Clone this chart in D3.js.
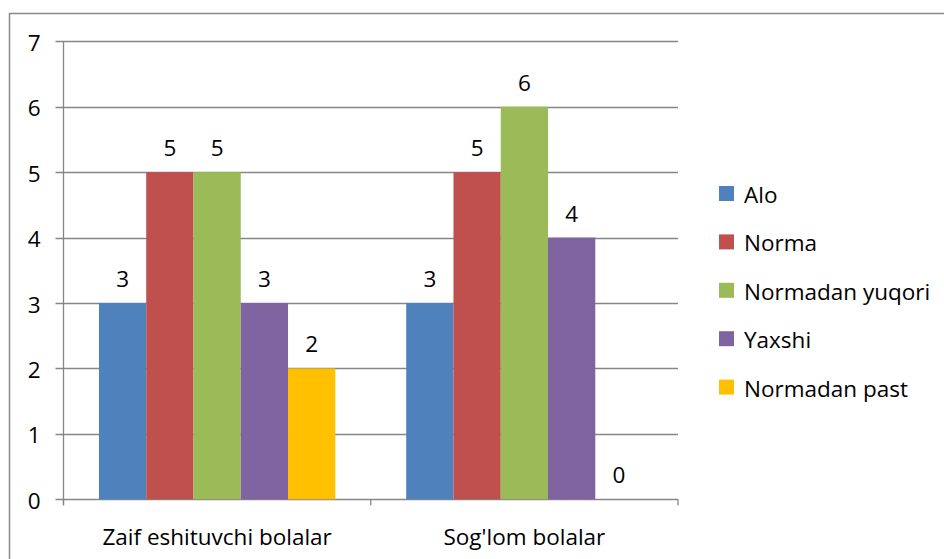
<!DOCTYPE html>
<html><head><meta charset="utf-8">
<script src="https://cdn.jsdelivr.net/npm/d3@7"></script>
<style>body{margin:0;background:#fff}svg{display:block}text{font-family:"Open Sans",sans-serif;fill:#000}</style>
</head><body><svg id="c" width="944" height="559"></svg>
<script>
const categories = ["Zaif eshituvchi bolalar", "Sog'lom bolalar"];
const seriesNames = ["Alo", "Norma", "Normadan yuqori", "Yaxshi", "Normadan past"];
const seriesColors = ["#4f81bd", "#c0504d", "#9bbb59", "#8064a2", "#ffc000"];
const values = {
  "Alo": [3, 3],
  "Norma": [5, 5],
  "Normadan yuqori": [5, 6],
  "Yaxshi": [3, 4],
  "Normadan past": [2, 0]
};
const yTicks = [0, 1, 2, 3, 4, 5, 6, 7];

const svg = d3.select("#c");
const fs = 22.5;
const fontFam = '"Open Sans",sans-serif';
// outer chart border
svg.append("path").attr("d", "M9.5,560 V13.5 H945").attr("fill", "none").attr("stroke", "#898989").attr("stroke-width", 1.5);

const x0 = 63.5, x1 = 678, yTop = 41.3, yBot = 499.3;
const x = d3.scaleBand().domain(categories).range([x0, x1]).paddingInner(0).paddingOuter(0);
const y = d3.scaleLinear().domain([0, 7]).range([yBot, yTop]);
const bw = x.bandwidth() / 6.5;
const xs = d3.scaleBand().domain(seriesNames).range([bw * 0.75, x.bandwidth() - bw * 0.75]).padding(0);

const grid = "#868686";
// gridlines
svg.append("g").selectAll("line").data(yTicks).join("line")
  .attr("x1", x0 - 8).attr("x2", x1)
  .attr("y1", d => Math.round(y(d)) + 0.5).attr("y2", d => Math.round(y(d)) + 0.5)
  .attr("stroke", grid).attr("stroke-width", 1.3);

// y axis
const yAxis = d3.axisLeft(y).tickValues(yTicks).tickSize(0).tickPadding(0).tickFormat(d3.format("d"));
const gy = svg.append("g").attr("transform", `translate(${x0},0)`).call(yAxis);
gy.select(".domain").remove();
gy.selectAll("text").attr("x", -23).attr("dy", null).attr("y", 9)
  .style("font-size", fs + "px").style("font-family", fontFam).attr("fill", "#000");
svg.append("line").attr("x1", x0).attr("x2", x0).attr("y1", yTop).attr("y2", yBot + 6).attr("stroke", grid).attr("stroke-width", 1.3);

// x axis ticks
const bounds = [x0, x0 + x.bandwidth(), x1];
svg.append("g").selectAll("line").data(bounds).join("line")
  .attr("x1", d => d).attr("x2", d => d).attr("y1", yBot).attr("y2", yBot + 6)
  .attr("stroke", grid).attr("stroke-width", 1.3);
const xAxis = d3.axisBottom(x).tickSize(0).tickPadding(0);
const gx = svg.append("g").attr("transform", `translate(0,${yBot})`).call(xAxis);
gx.select(".domain").remove();
gx.selectAll("text").attr("dy", null).attr("y", 46)
  .style("font-size", fs + "px").style("font-family", fontFam).attr("fill", "#000");

// bars
const data = [];
categories.forEach((c, i) => seriesNames.forEach((s, j) => data.push({c, s, v: values[s][i], color: seriesColors[j]})));
svg.append("g").selectAll("rect").data(data).join("rect")
  .attr("x", d => x(d.c) + xs(d.s)).attr("width", xs.bandwidth())
  .attr("y", d => y(d.v)).attr("height", d => y(0) - y(d.v))
  .attr("fill", d => d.color);
svg.append("g").selectAll("text").data(data).join("text")
  .attr("x", d => x(d.c) + xs(d.s) + xs.bandwidth() / 2)
  .attr("y", d => y(d.v) - 16)
  .attr("text-anchor", "middle").style("font-size", fs + "px").text(d => d.v);

// legend
const lg = svg.append("g").selectAll("g").data(seriesNames).join("g")
  .attr("transform", (d, i) => `translate(719,${186 + i * 48.4})`);
lg.append("rect").attr("x", 0).attr("y", 0).attr("width", 15).attr("height", 15).attr("fill", (d, i) => seriesColors[i]);
lg.append("text").attr("x", 25).attr("y", 17).style("font-size", fs + "px").text(d => d);
</script></body></html>
